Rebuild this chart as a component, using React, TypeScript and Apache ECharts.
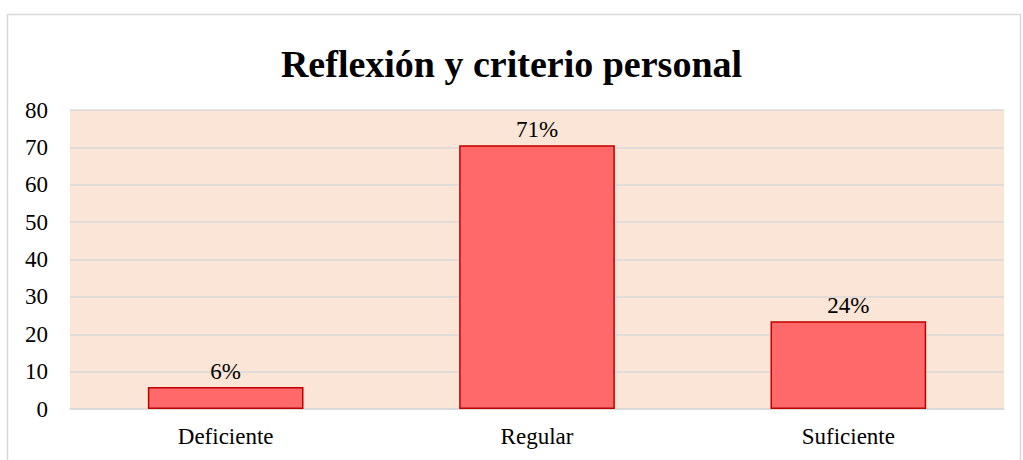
import React, { useEffect, useRef } from "react";
import * as echarts from "echarts";

const categories = ["Deficiente", "Regular", "Suficiente"];
const values = [5.9, 70.6, 23.5];
const valueLabels = ["6%", "71%", "24%"];
const titleText = "Reflexión y criterio personal";

const FONT = "'Liberation Serif', 'Times New Roman', serif";

export default function App() {
  const ref = useRef<HTMLDivElement>(null);
  useEffect(() => {
    if (!ref.current) return;
    const chart = echarts.init(ref.current, null, { renderer: "svg" });
    chart.setOption({
      animation: false,
      backgroundColor: "#ffffff",
      title: {
        text: titleText,
        left: "center",
        top: 40,
        textStyle: { fontFamily: FONT, fontSize: 38, fontWeight: "bold", color: "#000" },
      },
      graphic: [
        {
          type: "rect",
          shape: { x: 7.5, y: 14.5, width: 1013, height: 460 },
          style: { fill: "none", stroke: "#D9D9D9", lineWidth: 1.5 },
          silent: true,
          z: -10,
        },
      ],
      grid: {
        left: 70,
        right: 19,
        top: 110,
        bottom: 51,
        show: true,
        backgroundColor: "#FBE5D6",
        borderWidth: 0,
      },
      xAxis: {
        type: "category",
        data: categories,
        axisLine: { show: true, lineStyle: { color: "#D9D9D9", width: 1.5 } },
        axisTick: { show: false },
        axisLabel: { fontFamily: FONT, fontSize: 23, color: "#000", margin: 16 },
      },
      yAxis: {
        type: "value",
        min: 0,
        max: 80,
        interval: 10,
        axisLine: { show: false },
        axisTick: { show: false },
        splitLine: { lineStyle: { color: "#D9D9D9", width: 1.5 } },
        axisLabel: { fontFamily: FONT, fontSize: 23, color: "#000", margin: 22 },
      },
      series: [
        {
          type: "bar",
          data: values,
          barWidth: "50%",
          itemStyle: { color: "#FF6969", borderColor: "#C00000", borderWidth: 1.5 },
          label: {
            show: true,
            position: "top",
            distance: 4,
            fontFamily: FONT,
            fontSize: 23,
            color: "#000",
            formatter: (p: any) => valueLabels[p.dataIndex],
          },
        },
      ],
    });
    return () => chart.dispose();
  }, []);
  return (
    <div
      ref={ref}
      style={{ position: "fixed", left: 0, top: 0, width: 1023, height: 460 }}
    />
  );
}
